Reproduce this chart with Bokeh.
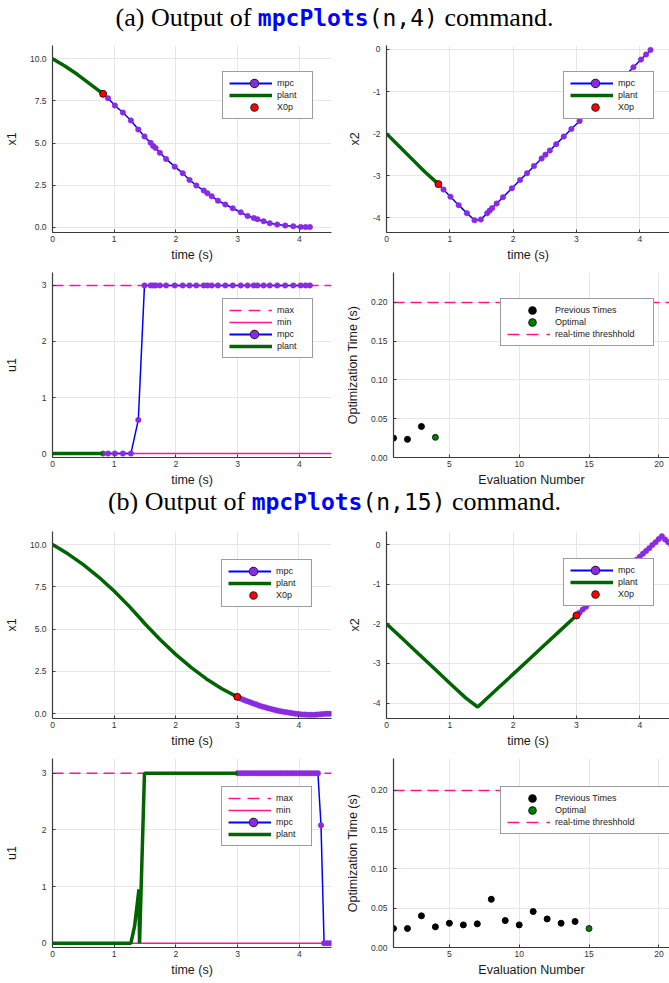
from bokeh.plotting import figure
from bokeh.models import Legend, LegendItem, Span, FixedTicker, Range1d, Div, NumeralTickFormatter
from bokeh.layouts import column, row
from bokeh.embed import file_html
from bokeh.resources import INLINE

NAN = float("nan")

# ---------------- data: (a) mpcPlots(n,4) ----------------
t_plant_a = [0.0, 0.2, 0.4, 0.6, 0.82]
x1_plant_a = [10.0, 9.57, 9.08, 8.53, 7.92]
x2_plant_a = [-2.0, -2.3, -2.6, -2.9, -3.2]
u1_plant_a = [0.0, 0.0, 0.0, 0.0, 0.0]

t_mpc_a = [0.82, 0.90, 1.01, 1.14, 1.27, 1.39, 1.49, 1.59, 1.63, 1.67,
           1.74, 1.84, 1.98, 2.11, 2.22, 2.33, 2.45, 2.51, 2.58, 2.68,
           2.80, 2.92, 3.05, 3.16, 3.26, 3.32, 3.42, 3.52, 3.64, 3.77,
           3.90, 4.02, 4.10, 4.17]
x1_mpc_a = [7.92, 7.66, 7.23, 6.81, 6.34, 5.80, 5.39, 5.01, 4.83, 4.71,
            4.42, 4.06, 3.60, 3.21, 2.81, 2.48, 2.18, 2.02, 1.84, 1.58,
            1.35, 1.13, 0.89, 0.67, 0.55, 0.48, 0.36, 0.24, 0.16, 0.10,
            0.06, 0.02, 0.01, 0.01]
x2_mpc_a = [-3.20, -3.33, -3.50, -3.70, -3.89, -4.06, -4.04, -3.89, -3.83, -3.77,
            -3.66, -3.51, -3.30, -3.10, -2.94, -2.77, -2.59, -2.50, -2.40, -2.25,
            -2.07, -1.89, -1.70, -1.53, -1.38, -1.29, -1.14, -0.99, -0.81, -0.62,
            -0.42, -0.24, -0.12, -0.01]
u1_mpc_a = [0.0, 0.0, 0.0, 0.0, 0.0, 0.6, 3.0, 3.0, 3.0, 3.0,
            3.0, 3.0, 3.0, 3.0, 3.0, 3.0, 3.0, 3.0, 3.0, 3.0,
            3.0, 3.0, 3.0, 3.0, 3.0, 3.0, 3.0, 3.0, 3.0, 3.0,
            3.0, 3.0, 3.0, 3.0]

eval_prev_a = [1, 2, 3]
time_prev_a = [0.025, 0.0234, 0.040]
eval_opt_a = [4]
time_opt_a = [0.026]

# ---------------- data: (b) mpcPlots(n,15) ----------------
t_plant_b = [0.0, 0.25, 0.5, 0.75, 1.0, 1.25, 1.44, 1.5, 1.75, 2.0, 2.25, 2.5, 2.75, 3.0]
x1_plant_b = [10.0, 9.45, 8.81, 8.08, 7.25, 6.33, 5.57, 5.32, 4.37, 3.51, 2.74, 2.06, 1.48, 1.0]
x2_plant_b = [-2.0, -2.37, -2.75, -3.12, -3.5, -3.87, -4.1, -4.01, -3.64, -3.27, -2.90, -2.53, -2.16, -1.79]
t_u_plant_b = [0.0, 1.27, 1.33, 1.40, 1.41, 1.49, 3.0]
u1_plant_b = [0.0, 0.0, 0.3, 0.95, 0.0, 3.0, 3.0]

t_mpc_b = [3.00, 3.05, 3.10, 3.15, 3.20, 3.25, 3.30, 3.35, 3.40, 3.45,
           3.50, 3.55, 3.60, 3.65, 3.70, 3.75, 3.80, 3.85, 3.90, 3.95,
           4.00, 4.05, 4.10, 4.15, 4.20, 4.25, 4.30, 4.35, 4.40, 4.45, 4.50]
x1_mpc_b = [0.98, 0.90, 0.83, 0.76, 0.69, 0.62, 0.56, 0.49, 0.43, 0.38,
            0.33, 0.28, 0.23, 0.19, 0.15, 0.12, 0.09, 0.06, 0.03, 0.0,
            -0.02, -0.04, -0.05, -0.06, -0.06, -0.06, -0.05, -0.03, -0.01, 0.0, 0.0]
x2_mpc_b = [-1.79, -1.72, -1.64, -1.57, -1.49, -1.42, -1.35, -1.27, -1.20, -1.12,
            -1.05, -0.98, -0.90, -0.83, -0.75, -0.68, -0.60, -0.53, -0.46, -0.38,
            -0.31, -0.23, -0.16, -0.09, -0.01, 0.06, 0.14, 0.21, 0.13, 0.06, -0.02]
u1_mpc_b = [3.0, 3.0, 3.0, 3.0, 3.0, 3.0, 3.0, 3.0, 3.0, 3.0,
            3.0, 3.0, 3.0, 3.0, 3.0, 3.0, 3.0, 3.0, 3.0, 3.0,
            3.0, 3.0, 3.0, 3.0, 3.0, 3.0, 3.0, 2.08, 0.0, 0.0, 0.0]

eval_prev_b = [1, 2, 3, 4, 5, 6, 7, 8, 9, 10, 11, 12, 13, 14]
time_prev_b = [0.0242, 0.0242, 0.0403, 0.0263, 0.0309, 0.0288, 0.0301, 0.0614,
               0.0343, 0.0288, 0.0458, 0.0364, 0.0309, 0.0331]
eval_opt_b = [15]
time_opt_b = [0.0242]

u_max = 3.0
u_min = 0.0
rt_threshold = 0.2

# ticks
time_ticks = [0, 1, 2, 3, 4]
x1_ticks = [0.0, 2.5, 5.0, 7.5, 10.0]
x2_ticks = [-4, -3, -2, -1, 0]
u1_ticks = [0, 1, 2, 3]
opt_x_ticks = [5, 10, 15, 20]
opt_y_ticks = [0.0, 0.05, 0.10, 0.15, 0.20]

# ---------------- styling ----------------
SANS = "Liberation Sans"
BLUE = "#0000ff"
PURPLE = "#8a2be2"
GREEN = "#006400"
RED = "#ff0000"
PINK = "#ff1493"
OPTGREEN = "#008000"
AXC = "#3a3a3a"

LW, RW = 338, 331


def base_fig(width, height, xr, yr, xt, yt, xfmt, yfmt, xlabel, ylabel, bl, br, bt, bb, ystand=8):
    p = figure(width=width, height=height, x_range=Range1d(*xr), y_range=Range1d(*yr),
               output_backend="svg", toolbar_location=None,
               min_border_left=bl, min_border_right=br, min_border_top=bt, min_border_bottom=bb)
    p.outline_line_color = None
    p.background_fill_color = "white"
    p.border_fill_color = "white"
    p.xaxis.ticker = FixedTicker(ticks=xt)
    p.yaxis.ticker = FixedTicker(ticks=yt)
    p.xaxis.formatter = NumeralTickFormatter(format=xfmt)
    p.yaxis.formatter = NumeralTickFormatter(format=yfmt)
    for ax in (p.xaxis[0], p.yaxis[0]):
        ax.axis_line_color = AXC
        ax.axis_line_width = 1.2
        ax.major_tick_in = 3
        ax.major_tick_out = 0
        ax.major_tick_line_color = AXC
        ax.minor_tick_line_color = None
        ax.major_label_text_font = SANS
        ax.major_label_text_font_size = "8.5px"
        ax.major_label_text_color = "#333333"
        ax.axis_label_text_font = SANS
        ax.axis_label_text_font_size = "12.5px"
        ax.axis_label_text_font_style = "normal"
        ax.axis_label_text_color = "#1a1a1a"
    p.xaxis.axis_label = xlabel
    p.yaxis.axis_label = ylabel
    p.xaxis.major_label_standoff = 3
    p.xaxis.axis_label_standoff = 3
    p.yaxis.major_label_standoff = 6
    p.yaxis.axis_label_standoff = ystand
    p.xgrid.grid_line_color = "#e6e6e6"
    p.ygrid.grid_line_color = "#e6e6e6"
    return p


# legend-only samples (NaN data: nothing is drawn inside the plot area)
SEG = "0 1 43 200"            # solid segment across the sample area
DASHSEG = "0 1 12 7 12 8 4 200"  # dashed sample


def seg(p, color, width, dash=SEG):
    return p.line(x=[NAN], y=[NAN], line_color=color, line_width=width, line_dash=dash)


def dot(p, color, width):
    return p.line(x=[NAN], y=[NAN], line_color=color, line_width=width, line_cap="round",
                  line_dash="0 200", line_dash_offset=174)


def make_legend(items, loc, label_width):
    return Legend(items=items, location=loc, orientation="vertical",
                  label_text_font=SANS, label_text_font_size="9px", label_text_color="#222222",
                  glyph_width=44, glyph_height=12, label_height=12, label_width=label_width,
                  label_standoff=5, spacing=0, padding=5, margin=0,
                  border_line_color=AXC, border_line_width=1.2,
                  background_fill_color="white", background_fill_alpha=1.0)


def mpc_item(p):
    return LegendItem(label="mpc", renderers=[seg(p, BLUE, 1.8), dot(p, "#222222", 9.5), dot(p, PURPLE, 7.5)])


def plant_item(p):
    return LegendItem(label="plant", renderers=[seg(p, GREEN, 3.5)])


def state_fig(height, bt, bb, xr, yr, yt, yfmt, ylabel, t_mpc, y_mpc, t_pl, y_pl, left, legloc):
    if left:
        p = base_fig(LW, height, xr, yr, time_ticks, yt, "0", yfmt, "time (s)", ylabel, 52, 7, bt, bb, 8)
    else:
        p = base_fig(RW, height, xr, yr, time_ticks, yt, "0", yfmt, "time (s)", ylabel, 48, 0, bt, bb, 8)
    p.line(t_mpc, y_mpc, line_color=BLUE, line_width=1.5)
    p.scatter(t_mpc, y_mpc, size=5.5, marker="circle", fill_color=PURPLE, line_color=PURPLE, line_width=0.5)
    p.line(t_pl, y_pl, line_color=GREEN, line_width=3.5)
    p.scatter([t_pl[-1]], [y_pl[-1]], size=7, marker="circle", fill_color=RED,
              line_color="black", line_width=0.8)
    items = [mpc_item(p), plant_item(p),
             LegendItem(label="X0p", renderers=[dot(p, "#222222", 8.5), dot(p, RED, 6.5)])]
    p.add_layout(make_legend(items, legloc, 30))
    return p


def control_fig(height, bt, bb, xr, yr, t_mpc, u_mpc, t_pl, u_pl, legloc):
    p = base_fig(LW, height, xr, yr, time_ticks, u1_ticks, "0", "0", "time (s)", "u1", 52, 7, bt, bb, 20)
    p.add_layout(Span(location=u_max, dimension="width", line_color=PINK, line_width=1.5,
                      line_dash="11 6", level="underlay"))
    p.add_layout(Span(location=u_min, dimension="width", line_color=PINK, line_width=1.5,
                      level="underlay"))
    p.line(t_mpc, u_mpc, line_color=BLUE, line_width=1.5)
    p.scatter(t_mpc, u_mpc, size=5.5, marker="circle", fill_color=PURPLE, line_color=PURPLE, line_width=0.5)
    p.line(t_pl, u_pl, line_color=GREEN, line_width=3.5)
    items = [LegendItem(label="max", renderers=[seg(p, PINK, 1.5, DASHSEG)]),
             LegendItem(label="min", renderers=[seg(p, PINK, 1.5)]),
             mpc_item(p), plant_item(p)]
    p.add_layout(make_legend(items, legloc, 30))
    return p


def opt_fig(height, bt, bb, yr, ev_prev, tm_prev, ev_opt, tm_opt, legloc, lw):
    p = base_fig(RW, height, (1, 20.76), yr, opt_x_ticks, opt_y_ticks, "0", "0.00", "Evaluation Number",
                 "Optimization Time (s)", 55, 0, bt, bb, 8)
    p.add_layout(Span(location=rt_threshold, dimension="width", line_color=PINK, line_width=1.5,
                      line_dash="11 6", level="underlay"))
    p.scatter(ev_prev, tm_prev, size=6, marker="circle", fill_color="black", line_color="black")
    p.scatter(ev_opt, tm_opt, size=6, marker="circle", fill_color=OPTGREEN,
              line_color="black", line_width=0.8)
    items = [LegendItem(label="Previous Times", renderers=[dot(p, "black", 8.5)]),
             LegendItem(label="Optimal", renderers=[dot(p, "#111111", 8.5), dot(p, OPTGREEN, 6.5)]),
             LegendItem(label="real-time threshhold", renderers=[seg(p, PINK, 1.5, DASHSEG)])]
    p.add_layout(make_legend(items, legloc, lw))
    return p


def caption(label, arg, height, pad_top):
    html = ("<div style=\"width:655px;padding-left:14px;padding-top:" + str(pad_top) + "px;text-align:center;"
            "font-family:'Liberation Serif';font-size:26px;line-height:0.9;color:#000;white-space:nowrap;\">"
            + label + " Output of "
            "<span style=\"font-family:'DejaVu Sans Mono';font-size:23px;font-weight:bold;color:#0000ff;\">mpcPlots</span>"
            "<span style=\"font-family:'DejaVu Sans Mono';font-size:23px;\">(n," + arg + ")</span>"
            " command.</div>")
    return Div(text=html, width=669, height=height, margin=0)


# rows: (height, border_top, border_bottom)
R1 = (232, 12, 33)
R2 = (224, 7, 31)
R3 = (237, 18, 32)
R4 = (229, 8, 32)

p1 = state_fig(*R1, (0, 4.52), (-0.31, 10.79), x1_ticks, "0.0", "x1", t_mpc_a, x1_mpc_a, t_plant_a, x1_plant_a, True, (170, 113))
p2 = state_fig(*R1, (0, 4.47), (-4.35, 0.095), x2_ticks, "0", "x2", t_mpc_a, x2_mpc_a, t_plant_a, x2_plant_a, False, (177, 113))
p3 = control_fig(*R2, (0, 4.52), (-0.07, 3.23), t_mpc_a, u1_mpc_a, t_plant_a, u1_plant_a, (170, 99))
p4 = opt_fig(*R2, (0, 0.2387), eval_prev_a, time_prev_a, eval_opt_a, time_opt_a, (107, 111), 93)

p5 = state_fig(*R3, (0, 4.53), (-0.28, 10.77), x1_ticks, "0.0", "x1", t_mpc_b, x1_mpc_b, t_plant_b, x1_plant_b, True, (169, 111))
p6 = state_fig(*R3, (0, 4.47), (-4.39, 0.33), x2_ticks, "0", "x2", t_mpc_b, x2_mpc_b, t_plant_b, x2_plant_b, False, (177, 112))
p7 = control_fig(*R4, (0, 4.52), (-0.076, 3.26), t_mpc_b, u1_mpc_b, t_u_plant_b, u1_plant_b, (169, 101))
p8 = opt_fig(*R4, (0, 0.2406), eval_prev_b, time_prev_b, eval_opt_b, time_opt_b, (107, 113), 109)

layout = column(caption("(a)", "4", 33, 6), row(p1, p2), row(p3, p4),
                caption("(b)", "15", 24, 1), row(p5, p6), row(p7, p8))

open("out.html", "w").write(file_html(layout, INLINE))
